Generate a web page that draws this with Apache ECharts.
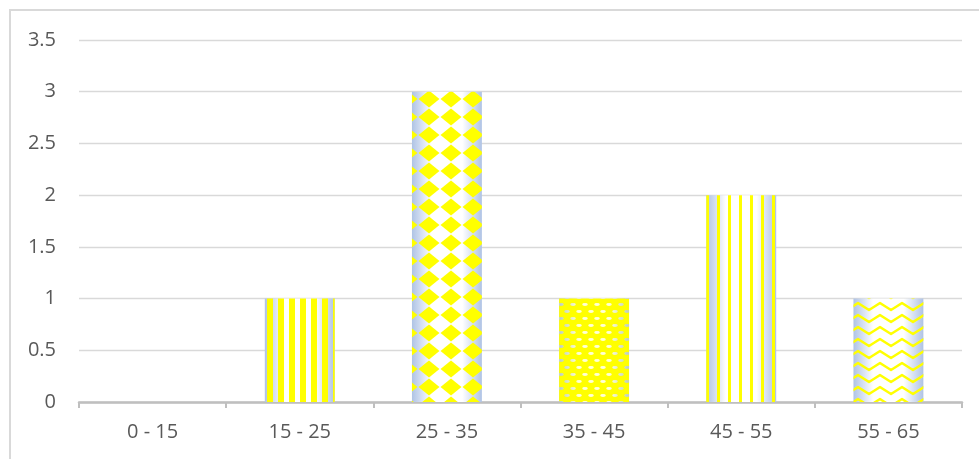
<!DOCTYPE html>
<html>
<head>
<meta charset="utf-8">
<script src="https://cdn.jsdelivr.net/npm/echarts@6/dist/echarts.min.js"></script>
<style>
  html, body { margin: 0; padding: 0; background: #fff; }
  #chart { width: 979px; height: 459px; }
</style>
</head>
<body>
<div id="chart"></div>
<script>
  // data
  var categories = ['0 - 15', '15 - 25', '25 - 35', '35 - 45', '45 - 55', '55 - 65'];
  var counts = [0, 1, 3, 1, 2, 1];
  var yTicks = { min: 0, max: 3.5, interval: 0.5 };

  var YELLOW = '#FFFF00';

  function tile(w, h, draw) {
    var c = document.createElement('canvas');
    c.width = w; c.height = h;
    var ctx = c.getContext('2d');
    draw(ctx, w, h);
    return { image: c, repeat: 'repeat' };
  }

  // wide vertical stripes
  var wideStripes = tile(11, 11, function (ctx) {
    ctx.fillStyle = YELLOW;
    ctx.fillRect(3, 0, 6, 11);
  });
  // diamond grid
  var diamonds = tile(22, 18, function (ctx, w, h) {
    ctx.fillStyle = YELLOW;
    ctx.beginPath();
    ctx.moveTo(w / 2, 0.5);
    ctx.lineTo(w - 0.5, h / 2);
    ctx.lineTo(w / 2, h - 0.5);
    ctx.lineTo(0.5, h / 2);
    ctx.closePath();
    ctx.fill();
  });
  // yellow with small holes
  var confetti = tile(12, 14, function (ctx, w, h) {
    ctx.fillStyle = YELLOW;
    ctx.fillRect(0, 0, w, h);
    ctx.globalCompositeOperation = 'destination-out';
    ctx.fillStyle = 'rgba(0,0,0,0.85)';
    [[3, 3.5], [9, 10.5], [-3, 10.5], [15, 3.5]].forEach(function (p) {
      ctx.beginPath();
      ctx.ellipse(p[0], p[1], 2.8, 1.4, 0, 0, Math.PI * 2);
      ctx.fill();
    });
  });
  // thin vertical lines
  var thinStripes = tile(11, 11, function (ctx) {
    ctx.fillStyle = YELLOW;
    ctx.fillRect(2, 0, 3, 11);
  });
  // zigzag waves, one wave per 22px, one line per 12px
  var waves = tile(22, 12, function (ctx) {
    ctx.strokeStyle = YELLOW;
    ctx.lineWidth = 2.4;
    ctx.lineJoin = 'round';
    [-12, 0, 12].forEach(function (dy) {
      ctx.beginPath();
      ctx.moveTo(-11, 10 + dy);
      ctx.lineTo(0, 3 + dy);
      ctx.lineTo(11, 10 + dy);
      ctx.lineTo(22, 3 + dy);
      ctx.lineTo(33, 10 + dy);
      ctx.stroke();
    });
  });

  var patterns = [wideStripes, wideStripes, diamonds, confetti, thinStripes, waves];

  var bgGradient = new echarts.graphic.LinearGradient(0, 0, 1, 0, [
    { offset: 0, color: '#AFC3E5' },
    { offset: 0.28, color: '#FFFFFF' },
    { offset: 0.72, color: '#FFFFFF' },
    { offset: 1, color: '#AFC3E5' }
  ]);

  var chart = echarts.init(document.getElementById('chart'));
  chart.setOption({
    animation: false,
    textStyle: { fontFamily: 'Open Sans' },
    graphic: [{
      type: 'rect',
      shape: { x: 10, y: 10, width: 1000, height: 500 },
      style: { fill: 'none', stroke: '#D9D9D9', lineWidth: 2 },
      silent: true
    }],
    grid: { left: 79, right: 17, top: 40, bottom: 57 },
    xAxis: {
      type: 'category',
      data: categories,
      axisLine: { lineStyle: { color: '#BFBFBF', width: 2.5 } },
      axisTick: { show: true, length: 6, lineStyle: { color: '#BFBFBF', width: 2 } },
      axisLabel: { color: '#595959', fontSize: 20, margin: 20 }
    },
    yAxis: {
      type: 'value',
      min: yTicks.min,
      max: yTicks.max,
      interval: yTicks.interval,
      axisLine: { show: false },
      axisTick: { show: false },
      splitLine: { lineStyle: { color: '#D9D9D9', width: 1.3 } },
      axisLabel: { color: '#595959', fontSize: 20, margin: 23 }
    },
    series: [
      {
        type: 'bar',
        data: counts,
        barWidth: '47.5%',
        itemStyle: { color: bgGradient },
        silent: true
      },
      {
        type: 'bar',
        data: counts.map(function (v, i) {
          return { value: v, itemStyle: { color: patterns[i] } };
        }),
        barWidth: '47.5%',
        barGap: '-100%',
        silent: true
      }
    ]
  });
</script>
</body>
</html>
